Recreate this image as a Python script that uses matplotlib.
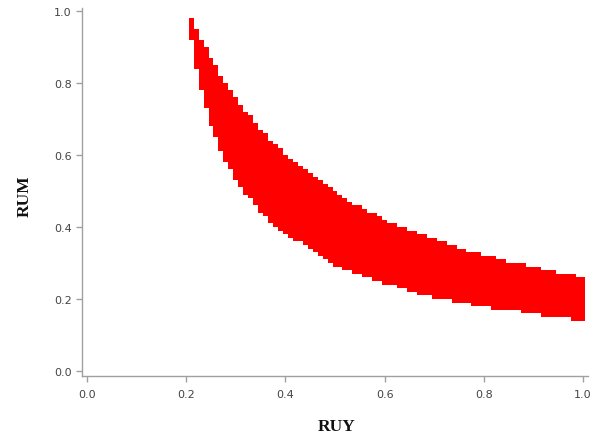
from matplotlib import pyplot as plt
import numpy as np

# RUY columns, one every 0.01
ruy = [0.21, 0.22, 0.23, 0.24, 0.25, 0.26, 0.27, 0.28, 0.29, 0.30,
       0.31, 0.32, 0.33, 0.34, 0.35, 0.36, 0.37, 0.38, 0.39, 0.40,
       0.41, 0.42, 0.43, 0.44, 0.45, 0.46, 0.47, 0.48, 0.49, 0.50,
       0.51, 0.52, 0.53, 0.54, 0.55, 0.56, 0.57, 0.58, 0.59, 0.60,
       0.61, 0.62, 0.63, 0.64, 0.65, 0.66, 0.67, 0.68, 0.69, 0.70,
       0.71, 0.72, 0.73, 0.74, 0.75, 0.76, 0.77, 0.78, 0.79, 0.80,
       0.81, 0.82, 0.83, 0.84, 0.85, 0.86, 0.87, 0.88, 0.89, 0.90,
       0.91, 0.92, 0.93, 0.94, 0.95, 0.96, 0.97, 0.98, 0.99, 1.00]

# upper RUM bound for each column
rum_max = [0.98, 0.95, 0.92, 0.90, 0.87, 0.85, 0.82, 0.80, 0.78, 0.76,
           0.74, 0.72, 0.71, 0.69, 0.67, 0.66, 0.64, 0.63, 0.62, 0.60,
           0.59, 0.58, 0.57, 0.56, 0.55, 0.54, 0.53, 0.52, 0.51, 0.50,
           0.49, 0.48, 0.47, 0.46, 0.46, 0.45, 0.44, 0.44, 0.43, 0.42,
           0.41, 0.41, 0.40, 0.40, 0.39, 0.39, 0.38, 0.38, 0.37, 0.37,
           0.36, 0.36, 0.35, 0.35, 0.34, 0.34, 0.33, 0.33, 0.33, 0.32,
           0.32, 0.32, 0.31, 0.31, 0.30, 0.30, 0.30, 0.30, 0.29, 0.29,
           0.29, 0.28, 0.28, 0.28, 0.27, 0.27, 0.27, 0.27, 0.26, 0.26]

# lower RUM bound for each column
rum_min = [0.92, 0.84, 0.78, 0.73, 0.68, 0.65, 0.61, 0.58, 0.56, 0.53,
           0.51, 0.49, 0.48, 0.46, 0.44, 0.43, 0.41, 0.40, 0.39, 0.38,
           0.37, 0.36, 0.36, 0.35, 0.34, 0.33, 0.32, 0.31, 0.30, 0.29,
           0.29, 0.28, 0.28, 0.27, 0.27, 0.26, 0.26, 0.25, 0.25, 0.24,
           0.24, 0.24, 0.23, 0.23, 0.22, 0.22, 0.21, 0.21, 0.21, 0.20,
           0.20, 0.20, 0.20, 0.19, 0.19, 0.19, 0.19, 0.18, 0.18, 0.18,
           0.18, 0.17, 0.17, 0.17, 0.17, 0.17, 0.17, 0.16, 0.16, 0.16,
           0.16, 0.15, 0.15, 0.15, 0.15, 0.15, 0.15, 0.14, 0.14, 0.14]

ticks = [0.0, 0.2, 0.4, 0.6, 0.8, 1.0]
tick_labels = ['0.0', '0.2', '0.4', '0.6', '0.8', '1.0']

axis_grey = '#a0a0a0'
text_grey = '#444444'

fig = plt.figure(figsize=(5.92, 4.39), dpi=100)
ax = fig.add_axes([82/592, 62/439, 506/592, 368/439])

lo = np.array(rum_min)
hi = np.array(rum_max)
ax.bar(ruy, hi - lo, bottom=lo, width=0.01, color='#ff0000', linewidth=0)

ax.set_xlim(-5/496, 1 + 5/496)
ax.set_ylim(-5/360, 1 + 3/360)

ax.set_xticks(ticks)
ax.set_xticklabels(tick_labels)
ax.set_yticks(ticks)
ax.set_yticklabels(tick_labels)

for side in ['top', 'right']:
    ax.spines[side].set_visible(False)
for side in ['left', 'bottom']:
    ax.spines[side].set_color(axis_grey)
    ax.spines[side].set_linewidth(1.0)

ax.tick_params(axis='both', colors=axis_grey, labelcolor=text_grey,
               labelsize=8, length=4.5, width=1.0)
ax.tick_params(axis='y', pad=3)
ax.tick_params(axis='x', pad=5)

fig.text(337/592, 1 - 427/439, 'RUY', ha='center', va='center',
         family='Liberation Serif', weight='bold', fontsize=12.5, color='#111111')
fig.text(25/592, 1 - 196/439, 'RUM', ha='center', va='center', rotation=90,
         family='Liberation Serif', weight='bold', fontsize=12.5, color='#111111')

plt.savefig('out.png', dpi=100)
